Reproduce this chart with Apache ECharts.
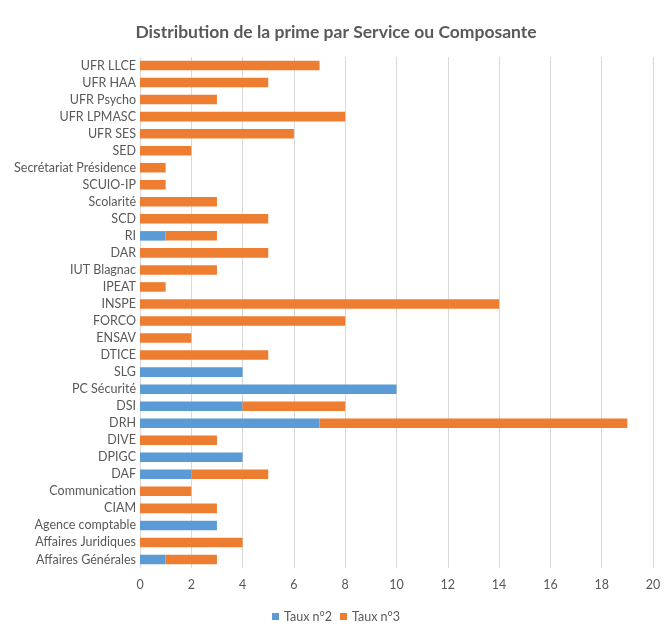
<!DOCTYPE html>
<html lang="fr">
<head>
    <meta charset="UTF-8">
    <title>Distribution de la prime</title>
    <style>
        html, body { margin: 0; padding: 0; background: #fff; }
        #main { width: 672px; height: 634px; }
    </style>
</head>
<body>
<div id="main"></div>
<script src="https://cdn.jsdelivr.net/npm/echarts@6/dist/echarts.min.js"></script>
<script type="text/javascript">
    // catégories, de bas en haut
    var services = ['Affaires Générales', 'Affaires Juridiques', 'Agence comptable', 'CIAM', 'Communication',
        'DAF', 'DPIGC', 'DIVE', 'DRH', 'DSI', 'PC Sécurité', 'SLG', 'DTICE', 'ENSAV', 'FORCO', 'INSPE',
        'IPEAT', 'IUT Blagnac', 'DAR', 'RI', 'SCD', 'Scolarité', 'SCUIO-IP', 'Secrétariat Présidence',
        'SED', 'UFR SES', 'UFR LPMASC', 'UFR Psycho', 'UFR HAA', 'UFR LLCE'];
    var taux2 = [1, 0, 3, 0, 0, 2, 4, 0, 7, 4, 10, 4, 0, 0, 0, 0, 0, 0, 0, 1, 0, 0, 0, 0, 0, 0, 0, 0, 0, 0];
    var taux3 = [2, 4, 0, 3, 2, 3, 0, 3, 12, 4, 0, 0, 5, 2, 8, 14, 1, 3, 5, 2, 5, 3, 1, 1, 2, 6, 8, 3, 5, 7];
    var xTicks = [0, 2, 4, 6, 8, 10, 12, 14, 16, 18, 20];

    var font = 'Lato, "Open Sans", sans-serif';
    var chart = echarts.init(document.getElementById('main'));

    var option = {
        animation: false,
        title: {
            text: 'Distribution de la prime par Service ou Composante',
            left: 'center',
            top: 18,
            textStyle: { fontFamily: font, fontSize: 17.5, fontWeight: 'bold', color: '#595959' }
        },
        legend: {
            data: ['Taux n°2', 'Taux n°3'],
            bottom: 6,
            left: 'center',
            itemWidth: 7,
            itemHeight: 7,
            itemGap: 8,
            icon: 'rect',
            textStyle: { fontFamily: font, fontSize: 12.5, color: '#595959' }
        },
        grid: { left: 140, right: 19, top: 57, bottom: 66 },
        xAxis: {
            type: 'value',
            min: xTicks[0],
            max: xTicks[xTicks.length - 1],
            interval: 2,
            axisLine: { show: false },
            axisTick: { show: false },
            splitLine: { lineStyle: { color: '#D9D9D9' } },
            axisLabel: { fontFamily: font, fontSize: 12.5, color: '#595959', margin: 10 }
        },
        yAxis: {
            type: 'category',
            data: services,
            axisLine: { lineStyle: { color: '#D9D9D9' } },
            axisTick: { show: false },
            axisLabel: { fontFamily: font, fontSize: 12.5, color: '#595959', margin: 4 }
        },
        series: [
            {
                name: 'Taux n°2',
                type: 'bar',
                stack: 'total',
                barWidth: '56%',
                itemStyle: { color: '#5B9BD5' },
                data: taux2
            },
            {
                name: 'Taux n°3',
                type: 'bar',
                stack: 'total',
                barWidth: '56%',
                itemStyle: { color: '#ED7D31' },
                data: taux3
            }
        ]
    };
    chart.setOption(option);
</script>
</body>
</html>
